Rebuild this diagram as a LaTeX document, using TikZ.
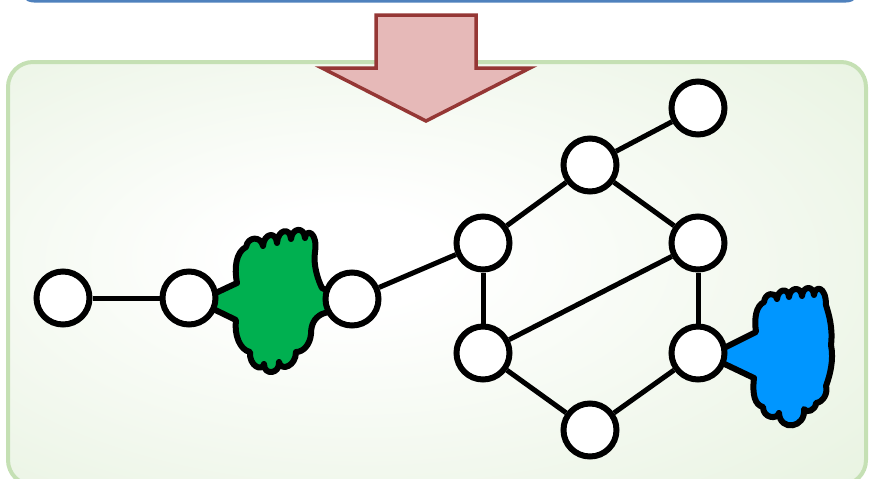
\documentclass[tikz,border=0pt]{standalone}
\definecolor{bggreen}{RGB}{223,238,213}
\definecolor{framegreen}{RGB}{197,224,180}
\definecolor{topblue}{RGB}{79,129,189}
\definecolor{arrowfill}{RGB}{230,185,184}
\definecolor{arrowline}{RGB}{149,55,53}
\definecolor{blobgreen}{RGB}{0,176,80}
\definecolor{blobblue}{RGB}{0,150,255}
\pgfdeclareradialshading{bgrad}{\pgfpoint{-6bp}{2bp}}{color(0bp)=(white); color(6bp)=(white); color(52bp)=(bggreen); color(80bp)=(bggreen)}
\tikzset{
  vert/.style={circle, draw=black, fill=white, line width=6pt, minimum size=53pt, inner sep=0pt},
  edge/.style={draw=black, line width=5pt},
  blob/.style={draw=black, line width=6pt, line join=round},
}
\begin{document}
\begin{tikzpicture}[x=1pt,y=-1pt]
\useasboundingbox (0,0) rectangle (871,479);
\clip (0,0) rectangle (871,479);
% top box
\draw[topblue, line width=3pt, fill=white, rounded corners=14pt] (20,-40) rectangle (860,1);
% frame
\shade[shading=bgrad, rounded corners=25pt] (8,62) rectangle (866,485);
\draw[framegreen, line width=4pt, rounded corners=25pt] (8,62) rectangle (866,485);
% arrow
\draw[arrowline, fill=arrowfill, line width=3.5pt, line join=miter]
  (376,15) -- (476,15) -- (476,68) -- (530,68) -- (426,121) -- (322,68) -- (376,68) -- cycle;
% green blob
\draw[blob, fill=blobgreen]
  (205,298) -- (237,283)
  .. controls (234,268) and (236,252) .. (246,247)
  .. controls (248,236) and (261,236) .. (263,246)
  .. controls (264,233) and (276,231) .. (277,243)
  .. controls (278,229) and (290,227) .. (291,239)
  .. controls (292,228) and (304,226) .. (305,238)
  .. controls (306,228) and (318,232) .. (315,252)
  .. controls (313,265) and (318,280) .. (322,288)
  -- (340,297) -- (340,308) -- (322,314)
  .. controls (314,318) and (311,325) .. (311,334)
  .. controls (310,345) and (303,352) .. (296,352)
  .. controls (296,366) and (281,372) .. (279,362)
  .. controls (280,374) and (264,376) .. (264,364)
  .. controls (262,372) and (249,366) .. (250,352)
  .. controls (240,350) and (234,335) .. (236,320)
  -- (205,305) -- cycle;
% blue blob
\draw[blob, fill=blobblue]
  (712,354) -- (756,332)
  .. controls (754,318) and (756,306) .. (764,302)
  .. controls (765,293) and (775,291) .. (777,299)
  .. controls (778,289) and (788,287) .. (789,297)
  .. controls (790,287) and (801,286) .. (802,296)
  .. controls (803,286) and (813,285) .. (814,295)
  .. controls (815,285) and (826,286) .. (826,305)
  .. controls (829,315) and (833,328) .. (831,345)
  .. controls (834,360) and (830,375) .. (826,386)
  .. controls (828,392) and (824,402) .. (816,403)
  .. controls (816,410) and (806,414) .. (804,409)
  .. controls (806,428) and (780,432) .. (779,413)
  .. controls (777,420) and (763,418) .. (763,407)
  .. controls (755,405) and (752,395) .. (754,378)
  -- (712,358) -- cycle;
% nodes
\node[vert] (A) at (63,298) {};
\node[vert] (B) at (189,298) {};
\node[vert] (C) at (352,299) {};
\node[vert] (D) at (483,243) {};
\node[vert] (E) at (590,165) {};
\node[vert] (F) at (698,108) {};
\node[vert] (G) at (698,243) {};
\node[vert] (H) at (483,353) {};
\node[vert] (I) at (590,430) {};
\node[vert] (J) at (698,353) {};
% edges
\path[edge] (A) -- (B);
\path[edge] (C) -- (D);
\path[edge] (D) -- (E);
\path[edge] (E) -- (F);
\path[edge] (E) -- (G);
\path[edge] (D) -- (H);
\path[edge] (H) -- (G);
\path[edge] (G) -- (J);
\path[edge] (H) -- (I);
\path[edge] (I) -- (J);
\end{tikzpicture}
\end{document}
